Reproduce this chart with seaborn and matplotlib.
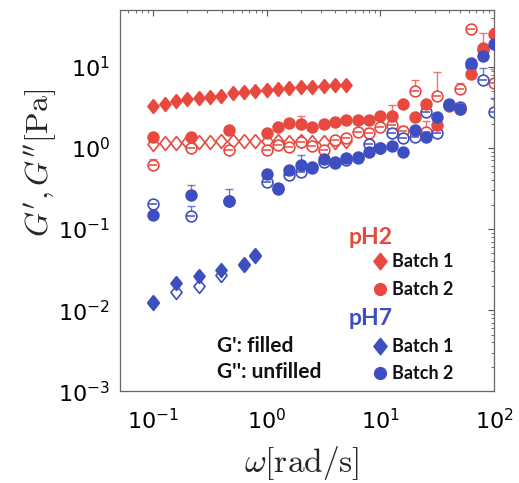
import numpy as np
import pandas as pd
import matplotlib
matplotlib.use("Agg")
import matplotlib.pyplot as plt
import seaborn as sns

# ---------------- data ----------------
# pH2 / pH7, batch 1 (diamonds)
w_ph2_b1 = [0.1, 0.126, 0.158, 0.2, 0.251, 0.316, 0.398, 0.501, 0.631, 0.794,
            1.0, 1.26, 1.58, 2.0, 2.51, 3.16, 3.98, 5.01]
Gp_ph2_b1 = [3.32, 3.51, 3.77, 3.99, 4.15, 4.23, 4.43, 4.72, 4.91, 5.0,
             5.2, 5.35, 5.5, 5.66, 5.7, 5.87, 5.91, 5.91]
Gpp_ph2_b1 = [1.12, 1.14, 1.16, 1.18, 1.2, 1.2, 1.22, 1.22, 1.22, 1.22,
              1.22, 1.22, 1.2, 1.22, 1.2, 1.2, 1.2, 1.22]

w_ph7_b1 = [0.1, 0.158, 0.251, 0.398, 0.631, 0.794]
Gp_ph7_b1 = [0.0125, 0.0214, 0.0263, 0.0312, 0.0368, 0.048]
Gpp_ph7_b1 = [0.0122, 0.0168, 0.0198, 0.0270, 0.0360, 0.046]

# batch 2 (circles)
w_b2 = [0.1, 0.215, 0.464, 1.0, 1.26, 1.58, 2.0, 2.51, 3.16, 3.98, 5.01, 6.31,
        7.94, 10.0, 12.6, 15.8, 20.0, 25.1, 31.6, 39.8, 50.1, 63.1, 79.4, 100.0]
Gp_ph2_b2 = [1.35, 1.37, 1.68, 1.54, 1.80, 2.04, 1.96, 1.80, 2.0, 2.09, 2.2, 2.24,
             2.24, 2.46, 2.46, 3.51, 2.41, 3.51, 1.91, 3.4, 3.0, 8.1, 17.0, 25.5]
Gpp_ph2_b2 = [0.61, 1.0, 0.93, 0.93, 1.09, 1.02, 1.2, 1.06, 0.93, 1.25, 1.31, 1.58,
              1.51, 1.79, 1.91, 1.63, 5.0, 1.58, 4.43, 3.3, 5.3, 29.0, 16.0, 6.4]
Gp_ph7_b2 = [0.148, 0.262, 0.222, 0.48, 0.32, 0.53, 0.62, 0.58, 0.73, 0.68, 0.75, 0.78,
             0.90, 1.0, 1.05, 0.90, 1.66, 1.37, 2.41, 3.34, 3.05, 11.0, 13.6, 18.9]
Gpp_ph7_b2 = [0.202, 0.143, 0.22, 0.38, 0.31, 0.47, 0.50, 0.56, 0.67, 0.66, 0.72, 0.76,
              1.13, 1.0, 1.51, 1.31, 1.37, 2.77, 1.51, 3.5, 3.19, 10.5, 6.9, 2.77]

# upper error bars (0 = none drawn)
err_Gp_ph2_b2 = [0, 0.12, 0, 0, 0, 0, 0.55, 0, 0, 0, 0, 0,
                 0, 0, 0.9, 0, 0, 0, 0, 0, 0, 0, 9.0, 0]
err_Gpp_ph2_b2 = [0.12, 0.12, 0, 0, 0, 0, 0, 0, 0, 0, 0, 0.2,
                  0.25, 0, 0, 0.25, 1.9, 0.57, 4.3, 0, 1.1, 0, 0, 3.0]
err_Gp_ph7_b2 = [0, 0.09, 0.09, 0, 0, 0, 0.2, 0, 0, 0, 0, 0,
                 0, 0, 0, 0, 0, 0, 0, 0, 0, 0, 0, 0]
err_Gpp_ph7_b2 = [0.02, 0.05, 0, 0, 0, 0, 0, 0, 0, 0, 0, 0,
                  0, 0, 0, 0, 0, 0, 0, 0, 0, 0, 2.9, 1.4]

RED = "#E8493E"
BLUE = "#3D4FC0"
DIAMOND = [(0, 1), (0.8, 0), (0, -1), (-0.8, 0), (0, 1)]

# ---------------- figure ----------------
sns.set_theme(style="white")
plt.rcParams["font.family"] = ["DejaVu Sans"]
plt.rcParams["mathtext.fontset"] = "cm"
plt.rcParams["axes.unicode_minus"] = False

fig = plt.figure(figsize=(5.19, 4.83), dpi=100)
ax = fig.add_axes([0.231, 0.190, 0.721, 0.789])
ax.set_xscale("log")
ax.set_yscale("log")

def draw(w, g, marker, color, filled, size, dash=False):
    df = pd.DataFrame({"w": w, "g": g})
    sns.scatterplot(data=df, x="w", y="g", ax=ax, marker=marker, s=size,
                    color=color if filled else "white",
                    edgecolor=color, linewidth=1.2, zorder=3 if filled else 2.5,
                    legend=False)
    if dash:
        sns.scatterplot(data=df, x="w", y="g", ax=ax, marker="_", s=size * 0.45,
                        color=color, linewidth=1.1, zorder=2.6, legend=False)

def errs(w, g, e, color):
    e = np.asarray(e, float)
    m = e > 0
    ax.errorbar(np.asarray(w)[m], np.asarray(g)[m],
                yerr=[np.zeros(m.sum()), e[m]], fmt="none", ecolor=color,
                elinewidth=1.0, capsize=3, capthick=1.0, alpha=0.75, zorder=2)

errs(w_b2, Gp_ph2_b2, err_Gp_ph2_b2, RED)
errs(w_b2, Gpp_ph2_b2, err_Gpp_ph2_b2, RED)
errs(w_b2, Gp_ph7_b2, err_Gp_ph7_b2, BLUE)
errs(w_b2, Gpp_ph7_b2, err_Gpp_ph7_b2, BLUE)

DS = 100
draw(w_ph2_b1, Gpp_ph2_b1, DIAMOND, RED, False, DS)
draw(w_ph7_b1, Gpp_ph7_b1, DIAMOND, BLUE, False, DS)
draw(w_b2, Gpp_ph2_b2, "o", RED, False, 60, dash=True)
draw(w_b2, Gpp_ph7_b2, "o", BLUE, False, 60, dash=True)
draw(w_ph2_b1, Gp_ph2_b1, DIAMOND, RED, True, DS)
draw(w_ph7_b1, Gp_ph7_b1, DIAMOND, BLUE, True, DS)
draw(w_b2, Gp_ph2_b2, "o", RED, True, 60)
draw(w_b2, Gp_ph7_b2, "o", BLUE, True, 60)

ax.set_xlim(0.051, 100)
ax.set_ylim(1e-3, 50)
ax.set_xticks([0.1, 1, 10, 100])
ax.set_yticks([1e-3, 1e-2, 1e-1, 1, 10])
ax.tick_params(which="both", direction="in", top=True, right=True,
               colors="#555555", labelcolor="black", labelsize=16)
ax.tick_params(which="major", length=4, width=0.8)
ax.tick_params(axis="x", which="major", pad=12)
ax.tick_params(axis="y", which="major", pad=7)
ax.tick_params(which="minor", length=2, width=0.6)
for sp in ax.spines.values():
    sp.set_color("#666666")
    sp.set_linewidth(0.9)

ax.set_xlabel(r"$\omega[\mathrm{rad/s}]$", fontsize=24)
ax.xaxis.label.set_va("center")
ax.xaxis.set_label_coords(0.487, -0.189)
ax.set_ylabel(r"$G', G''[\mathrm{Pa}]$", fontsize=23)
ax.yaxis.label.set_va("center")
ax.yaxis.set_label_coords(-0.211, 0.60)

# ---------------- custom legend ----------------
lf = ["Lato", "DejaVu Sans"]
ax.text(0.610, 0.404, "pH2", color=RED, fontsize=16.5, fontweight="bold",
        family=lf, transform=ax.transAxes, va="center", ha="left")
ax.text(0.610, 0.192, "pH7", color=BLUE, fontsize=16.5, fontweight="bold",
        family=lf, transform=ax.transAxes, va="center", ha="left")
rows = [(0.341, DIAMOND, RED, "Batch 1"), (0.268, "o", RED, "Batch 2"),
        (0.118, DIAMOND, BLUE, "Batch 1"), (0.047, "o", BLUE, "Batch 2")]
for y, mk, col, lab in rows:
    ax.plot([0.695], [y], marker=mk, color=col,
            markersize=12 if lab == "Batch 1" else 8.5,
            transform=ax.transAxes, clip_on=False, zorder=4)
    ax.text(0.727, y, lab, color="#111111",
            fontsize=13, fontweight="bold", family=lf,
            transform=ax.transAxes, va="center", ha="left")
ax.text(0.259, 0.118, "G': filled", color="#111111", fontsize=15,
        fontweight="bold", family=lf, transform=ax.transAxes, va="center", ha="left")
ax.text(0.259, 0.050, "G'': unfilled", color="#111111", fontsize=15,
        fontweight="bold", family=lf, transform=ax.transAxes, va="center", ha="left")

fig.savefig("out.png", dpi=100)
